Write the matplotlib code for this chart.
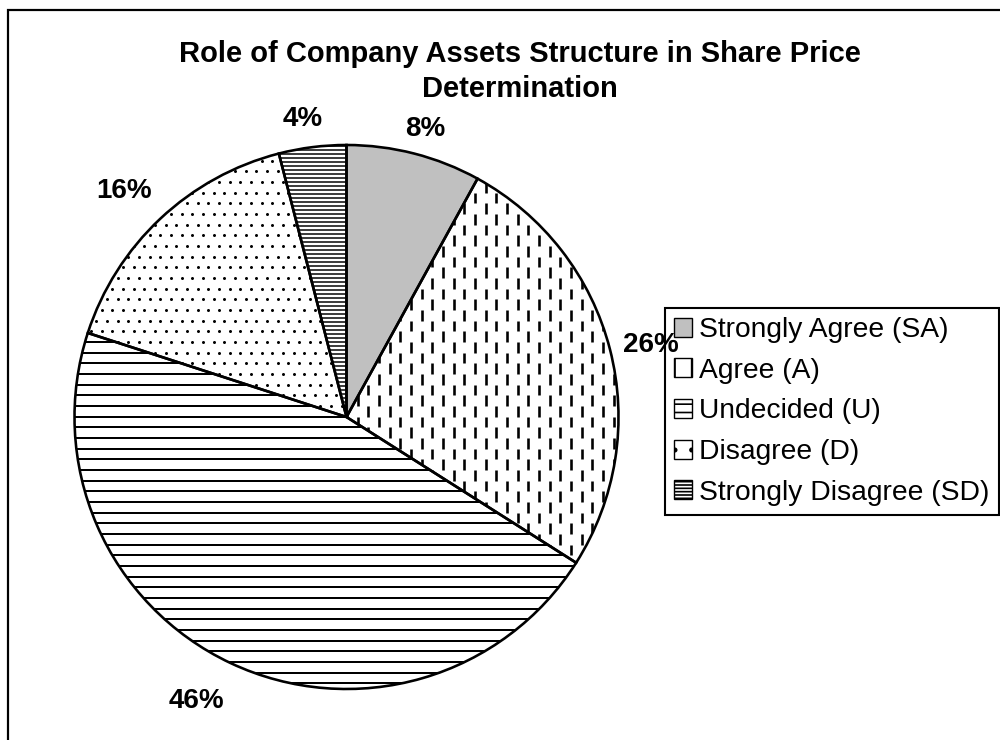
import numpy as np
import matplotlib.pyplot as plt
from matplotlib.collections import LineCollection
from matplotlib.patches import Wedge, Rectangle, Patch

plt.rcParams['font.family'] = ['Liberation Sans', 'DejaVu Sans']
plt.rcParams['hatch.linewidth'] = 1.2

# data
categories = ['Strongly Agree (SA)', 'Agree (A)', 'Undecided (U)',
              'Disagree (D)', 'Strongly Disagree (SD)']
shares = [8, 26, 46, 16, 4]
pct_labels = ['8%', '26%', '46%', '16%', '4%']

# layout (pixels from top-left of the 1000x740 picture)
W, H = 1000, 740
cx, cy, R = 346.5, 417, 272
label_pos = [(425, 136), (651, 352), (196, 708), (124, 198), (303, 126)]
fills = ['#c0c0c0', 'white', 'white', 'white', 'white']
legend_hatch = [None, '|', '--', '.', '-----']

PX = 0.72  # points per pixel at dpi 100


def Y(y):
    return H - y


fig = plt.figure(figsize=(10, 7.4), dpi=100)
ax = fig.add_axes([0, 0, 1, 1])

wedges, _ = ax.pie(shares, startangle=90, counterclock=False, radius=R,
                   center=(cx, Y(cy)), colors=fills,
                   wedgeprops=dict(edgecolor='none', linewidth=0))
ax.set_xlim(0, W)
ax.set_ylim(0, H)
ax.set_aspect('equal')
ax.axis('off')

x0, x1 = cx - R - 5, cx + R + 5
y0, y1 = Y(cy) - R - 5, Y(cy) + R + 5
u = 8 * 4 / 3  # pattern cell, ~10.7 px

# Agree: staggered vertical dashes
segs = []
for i, x in enumerate(np.arange(x0, x1, u)):
    off = (i % 2) * u
    for y in np.arange(y0 - 2 * u, y1, 2 * u):
        segs.append([(x, y + off), (x, y + off + u)])
lc = LineCollection(segs, colors='black', linewidths=2.6 * PX, capstyle='butt', zorder=2)
ax.add_collection(lc)
lc.set_clip_path(wedges[1])

# Undecided: horizontal lines
segs = [[(x0, y), (x1, y)] for y in np.arange(y0, y1, u)]
lc = LineCollection(segs, colors='black', linewidths=2.0 * PX, zorder=2)
ax.add_collection(lc)
lc.set_clip_path(wedges[2])

# Disagree: sparse staggered dots
dx, dy = [], []
for j, y in enumerate(np.arange(y0, y1, u)):
    xs = np.arange(x0 + (j % 2) * u / 2, x1, u)
    dx.extend(xs)
    dy.extend([y] * len(xs))
dots, = ax.plot(dx, dy, 'o', color='black', ms=3.0 * PX, mec='none', zorder=2)
dots.set_clip_path(wedges[3])

# Strongly disagree: dense horizontal lines
segs = [[(x0, y), (x1, y)] for y in np.arange(y0, y1, 4.0)]
lc = LineCollection(segs, colors='black', linewidths=1.5 * PX, zorder=2)
ax.add_collection(lc)
lc.set_clip_path(wedges[4])

# slice outlines on top
for w in wedges:
    ax.add_patch(Wedge(w.center, w.r, w.theta1, w.theta2, fill=False,
                       ec='black', lw=2.6 * PX, zorder=5))

for txt, (lx, ly) in zip(pct_labels, label_pos):
    ax.text(lx, Y(ly), txt, ha='center', va='baseline', fontsize=20,
            fontweight='bold', zorder=9)

ax.text(520, Y(62), 'Role of Company Assets Structure in Share Price',
        ha='center', va='baseline', fontsize=21, fontweight='bold')
ax.text(520, Y(97), 'Determination', ha='center', va='baseline',
        fontsize=21, fontweight='bold')

# outer chart border (runs off the right/bottom edge)
ax.add_patch(Rectangle((8, -20), W + 50, Y(10) + 20, fill=False,
                       ec='black', lw=2.2 * PX, zorder=0))

handles = [Patch(facecolor=f, edgecolor='black', hatch=h, lw=1.0)
           for f, h in zip(fills, legend_hatch)]
leg = ax.legend(handles, categories, loc='upper left',
                bbox_to_anchor=(665 / W, 1 - 308 / H),
                bbox_transform=fig.transFigure, borderaxespad=0,
                fontsize=20.3, handlelength=0.65, handleheight=0.65,
                handletextpad=0.25, borderpad=0.32, labelspacing=0.52,
                fancybox=False, framealpha=1, edgecolor='black')
leg.get_frame().set_linewidth(1.5)
leg.set_zorder(7)

fig.savefig('out.png', dpi=100, facecolor='white')
